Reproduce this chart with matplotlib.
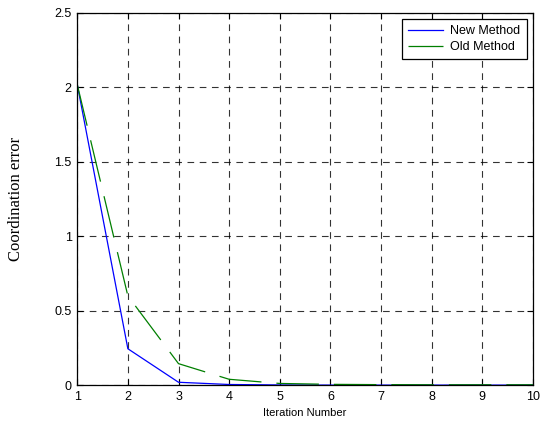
import matplotlib
matplotlib.use("Agg")
import matplotlib.pyplot as plt

iterations = [1, 2, 3, 4, 5, 6, 7, 8, 9, 10]
new_method = [2.02, 0.245, 0.02, 0.005, 0.002, 0.001, 0.001, 0.001, 0.001, 0.001]
old_method = [2.02, 0.60, 0.145, 0.04, 0.012, 0.006, 0.004, 0.003, 0.003, 0.003]

plt.rcParams["font.family"] = ["Liberation Sans", "DejaVu Sans"]

fig = plt.figure(figsize=(5.4, 4.29), dpi=100)
ax = fig.add_axes([0.143, 0.102, 0.844, 0.868])

ax.plot(iterations, new_method, color="#0000ff", linewidth=0.9, label="New Method")
ax.plot(iterations, old_method, color="#007f00", linewidth=0.9, dashes=(34, 12), label="Old Method")

ax.set_xlim(1, 10)
ax.set_ylim(0, 2.5)
ax.set_xticks(iterations)
ax.set_yticks([0, 0.5, 1, 1.5, 2, 2.5])
ax.set_yticklabels(["0", "0.5", "1", "1.5", "2", "2.5"])
ax.tick_params(direction="in", top=True, right=True, labelsize=9, length=4, width=0.8, pad=4)
ax.grid(True, color="black", linestyle=(0, (6, 5)), linewidth=0.8, alpha=0.8)
for s in ax.spines.values():
    s.set_linewidth(0.9)

ax.set_xlabel("Iteration Number", fontsize=8, labelpad=4)
ax.set_ylabel("Coordination error", fontsize=12, family=["Liberation Serif", "DejaVu Serif"], labelpad=22)

leg = ax.legend(loc="upper right", fontsize=9, fancybox=False, framealpha=1,
                edgecolor="black", handlelength=2.8, handletextpad=0.6,
                borderpad=0.5, labelspacing=0.3, borderaxespad=0.5)
leg.get_frame().set_linewidth(0.9)
leg.legend_handles[1].set_dashes((40, 1))

fig.savefig("out.png", dpi=100)
